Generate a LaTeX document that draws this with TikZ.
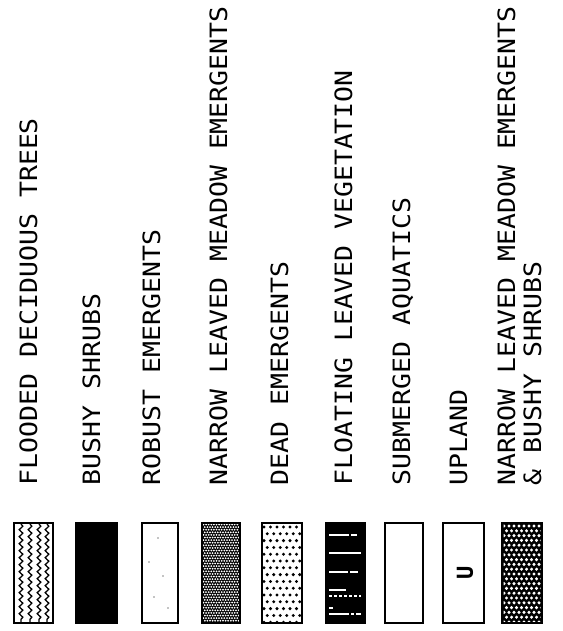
\documentclass[tikz,border=0pt]{standalone}
\usepackage{fontspec}
\newfontfamily\plotfont{DejaVu Sans Mono}
\usetikzlibrary{decorations.pathmorphing}
\tikzset{
  swatch/.style={draw=black, line width=1.6pt, inner sep=0pt, outer sep=0pt, minimum height=100pt},
  lbl/.style={rotate=90, yscale=0.9, anchor=base west, inner sep=0pt, outer sep=0pt,
    font=\plotfont\fontsize{26.5pt}{30pt}\selectfont},
  wave/.style={line width=1.3pt, decorate, decoration={snake, segment length=7pt, amplitude=1.8pt}},
  floatline/.style={draw=white, line width=1.1pt}
}
\begin{document}
\begin{tikzpicture}[x=1pt,y=-1pt]
\useasboundingbox (0,0) rectangle (562,631);
\fill[white] (0,0) rectangle (562,631);

% labels
\node[lbl] (t1) at (37,485) {FLOODED DECIDUOUS TREES};
\node[lbl] (t2) at (100,485) {BUSHY SHRUBS};
\node[lbl] (t3) at (160,485) {ROBUST EMERGENTS};
\node[lbl] (t4) at (227,485) {NARROW LEAVED MEADOW EMERGENTS};
\node[lbl] (t5) at (288,485) {DEAD EMERGENTS};
\node[lbl] (t6) at (352,485) {FLOATING LEAVED VEGETATION};
\node[lbl] (t7) at (410,485) {SUBMERGED AQUATICS};
\node[lbl] (t8) at (467,485) {UPLAND};
\node[lbl] (t9a) at (515,485) {NARROW LEAVED MEADOW EMERGENTS};
\node[lbl] (t9b) at (541,485) {\& BUSHY SHRUBS};

% swatch 1: flooded deciduous trees
\node[swatch, minimum width=39pt] (s1) at (33.5,573) {};
\foreach \xx in {21,30,39,47}
  \draw[wave] (\xx,524) -- (\xx,622);

% swatch 2: bushy shrubs
\node[swatch, fill=black, minimum width=41pt] (s2) at (96.5,573) {};

% swatch 3: robust emergents
\node[swatch, minimum width=36pt] (s3) at (160,573) {};
\foreach \px/\py in {158/538,163/576,154/597,168/608,149/562}
  \fill (\px,\py) circle (0.7);

% swatch 4: narrow leaved meadow emergents
\node[swatch, fill=black, minimum width=38pt] (s4) at (221,573) {};
\begin{scope}
  \clip (s4.south west) rectangle (s4.north east);
  \foreach \i in {0,...,38}
    \foreach \j in {0,...,14}
      \fill[white] ({203.5+\j*2.6+mod(\i,2)*1.3},{524.5+\i*2.6}) circle (1.0);
\end{scope}
\draw[line width=1.6pt] (s4.south west) rectangle (s4.north east);

% swatch 5: dead emergents
\node[swatch, minimum width=40pt] (s5) at (282,573) {};
\begin{scope}
  \clip (s5.south west) rectangle (s5.north east);
  \foreach \i in {0,...,14}
    \foreach \j in {0,...,6}
      \fill ({264+\j*6.5+mod(\i,2)*3.25},{527+\i*6.8}) circle (1.65);
\end{scope}

% swatch 6: floating leaved vegetation
\node[swatch, fill=black, minimum width=39pt] (s6) at (345.5,573) {};
\draw[floatline] (329,535) -- (349,535) (351,535) -- (357,535);
\draw[floatline] (329,553) -- (361,553);
\draw[floatline] (329,572) -- (348,572) (350,572) -- (358,572);
\draw[floatline] (329,590) -- (346,590);
\draw[floatline, dash pattern=on 3pt off 2pt] (329,596) -- (361,596);
\draw[floatline] (329,608) -- (333,608);
\draw[floatline, dash pattern=on 20pt off 2pt on 3pt off 2pt] (329,614) -- (361,614);

% swatch 7: submerged aquatics
\node[swatch, minimum width=38pt] (s7) at (404,573) {};

% swatch 8: upland
\node[swatch, minimum width=41pt] (s8) at (463.5,573) {};
\node[rotate=90, inner sep=0pt, font=\plotfont\bfseries\fontsize{22pt}{24pt}\selectfont] (u8) at (465,573) {U};

% swatch 9: narrow leaved meadow emergents & bushy shrubs
\node[swatch, fill=black, minimum width=40pt] (s9) at (522,573) {};
\begin{scope}
  \clip ([shift={(1.5,-1.5)}]s9.south west) rectangle ([shift={(-1.5,1.5)}]s9.north east);
  \foreach \i in {0,...,20}
    \foreach \j in {0,...,8}
      \fill[white] ({504+\j*5+mod(\i,2)*2.5},{526+\i*4.8}) circle (1.7);
\end{scope}
\end{tikzpicture}
\end{document}
